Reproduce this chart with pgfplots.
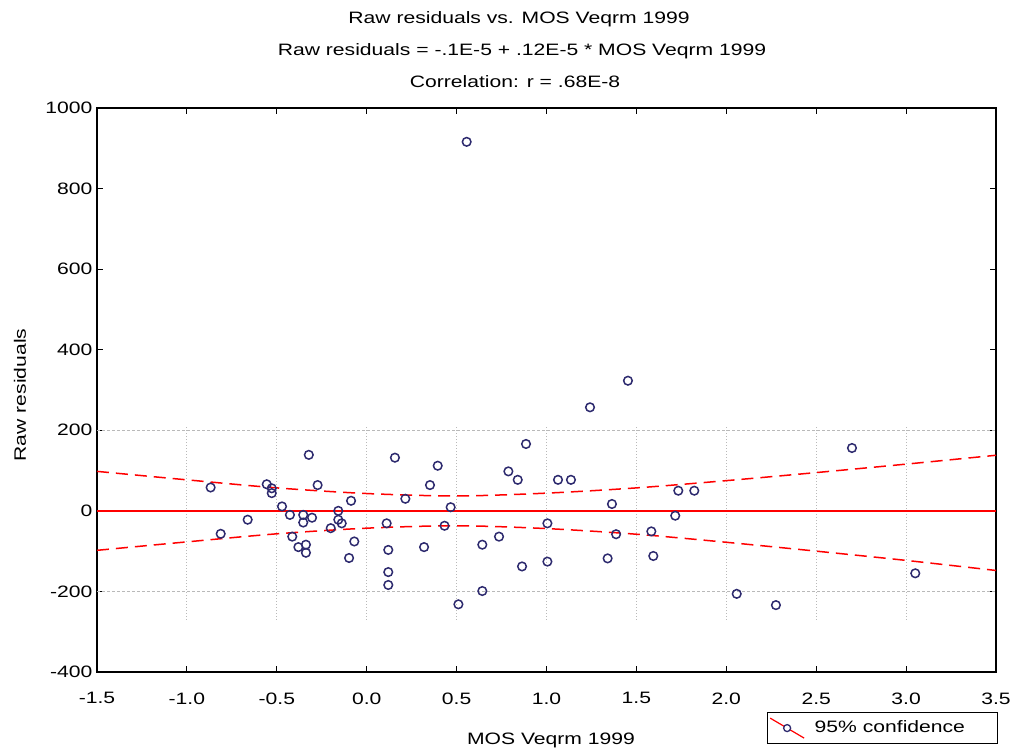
\documentclass[border=0pt]{standalone}
\usepackage{pgfplots}
\pgfplotsset{compat=1.18}
\usepackage{fontspec}
\setmainfont{Liberation Sans}[FakeStretch=1.28]
\definecolor{navy}{RGB}{45,42,110}
\definecolor{gridgray}{RGB}{185,185,185}
\newcommand{\lab}{\fontsize{16.5}{19}\selectfont}
\begin{document}
\begin{tikzpicture}[x=1pt,y=1pt]
\useasboundingbox (-97,-80) rectangle (918,672);
\begin{axis}[
  at={(0,0)}, anchor=south west,
  scale only axis, width=899pt, height=564pt,
  xmin=-1.5, xmax=3.5, ymin=-400, ymax=1000,
  xtick={-1.5,-1.0,-0.5,0,0.5,1.0,1.5,2.0,2.5,3.0,3.5},
  xticklabels={-1.5,-1.0,-0.5,0.0,0.5,1.0,1.5,2.0,2.5,3.0,3.5},
  ytick={-400,-200,0,200,400,600,800,1000},
  yticklabels={-400,-200,0,200,400,600,800,1000},
  tick align=inside, tick pos=both,
  major tick length=6pt,
  tick style={black, line width=1pt},
  axis line style={black, line width=1.6pt},
  /pgf/number format/assume math mode=true,
  tick label style={font=\lab},
  xticklabel style={anchor=north, yshift=-17pt},
  yticklabel style={xshift=-1pt},
  clip=false,
  legend style={at={(0.7453,-0.0709)}, anchor=north west, draw=black, line width=1pt,
    font=\lab, inner xsep=2pt, inner ysep=5pt},
  legend cell align=left,
]
% partial faded grid as in the reference
\foreach \gx in {-1.0,-0.5,0.0,0.5,1.0,1.5,2.0,2.5,3.0} {
  \edef\tmp{\noexpand\draw[gridgray, dotted, line width=1pt] (axis cs:\gx,-270) -- (axis cs:\gx,210);}
  \tmp
}
\draw[gridgray, densely dashed, line width=0.9pt] (axis cs:-1.5,200) -- (axis cs:3.5,200);
\draw[gridgray, densely dashed, line width=0.9pt] (axis cs:-1.5,-200) -- (axis cs:3.5,-200);

% regression line
\addplot[red, line width=1.6pt, forget plot] coordinates {(-1.5,0) (3.5,0)};
% confidence bands
\addplot[red, line width=1.5pt, dash pattern=on 12pt off 7pt, smooth, forget plot] coordinates {
(-1.5,98) (-1.0,77) (-0.5,57) (0.0,43) (0.5,37) (1.0,44) (1.5,57) (2.0,75) (2.5,95) (3.0,116) (3.5,138)};
\addplot[red, line width=1.5pt, dash pattern=on 12pt off 7pt, smooth, forget plot] coordinates {
(-1.5,-98) (-1.0,-77) (-0.5,-57) (0.0,-43) (0.5,-37) (1.0,-44) (1.5,-58) (2.0,-78) (2.5,-100) (3.0,-123) (3.5,-148)};

% residuals
\addplot[only marks, mark=o, mark size=4.3pt, navy, line width=1.5pt, forget plot] coordinates {
(-0.868,58) (-0.812,-57) (-0.662,-22) (-0.556,66) (-0.528,56) (-0.528,44)
(-0.471,11) (-0.427,-10) (-0.414,-64) (-0.380,-90) (-0.353,-10) (-0.353,-29)
(-0.338,-84) (-0.338,-104) (-0.322,139) (-0.304,-17) (-0.273,64) (-0.200,-43)
(-0.158,0) (-0.158,-22) (-0.139,-31) (-0.087,25) (-0.069,-76) (-0.098,-117)
(0.157,132) (0.215,30) (0.111,-31) (0.120,-97) (0.120,-152) (0.120,-184)
(0.319,-90) (0.352,64) (0.395,112) (0.433,-37) (0.467,9) (0.510,-232)
(0.556,916) (0.643,-84) (0.643,-199) (0.736,-64) (0.788,98) (0.840,77)
(0.886,166) (0.864,-138) (1.005,-31) (1.005,-126) (1.064,77) (1.136,77)
(1.242,257) (1.364,17) (1.387,-58) (1.340,-118) (1.453,323) (1.583,-51)
(1.594,-112) (1.716,-12) (1.733,50) (1.822,50) (2.058,-206) (2.276,-234)
(2.699,156) (3.051,-155)};

\addlegendimage{legend image code/.code={
  \draw[red, line width=1.2pt] (6pt,9pt) -- (40pt,-11pt);
  \draw[navy, line width=1.3pt, fill=white] (23pt,-1pt) circle (3.5pt);
}}
\addlegendentry{\hspace*{8pt}95\% confidence\hspace*{28pt}}
\end{axis}
\node[font=\lab, anchor=base] at (422,648) {Raw residuals vs. MOS Veqrm 1999};
\node[font=\lab, anchor=base] at (425,616) {Raw residuals = -.1E-5 + .12E-5 * MOS Veqrm 1999};
\node[font=\lab, anchor=base] at (418,584) {Correlation: r = .68E-8};
\node[font=\lab, anchor=base] at (454,-73) {MOS Veqrm 1999};
\node[font=\lab, rotate=90] at (-77,277) {Raw residuals};
\end{tikzpicture}
\end{document}
